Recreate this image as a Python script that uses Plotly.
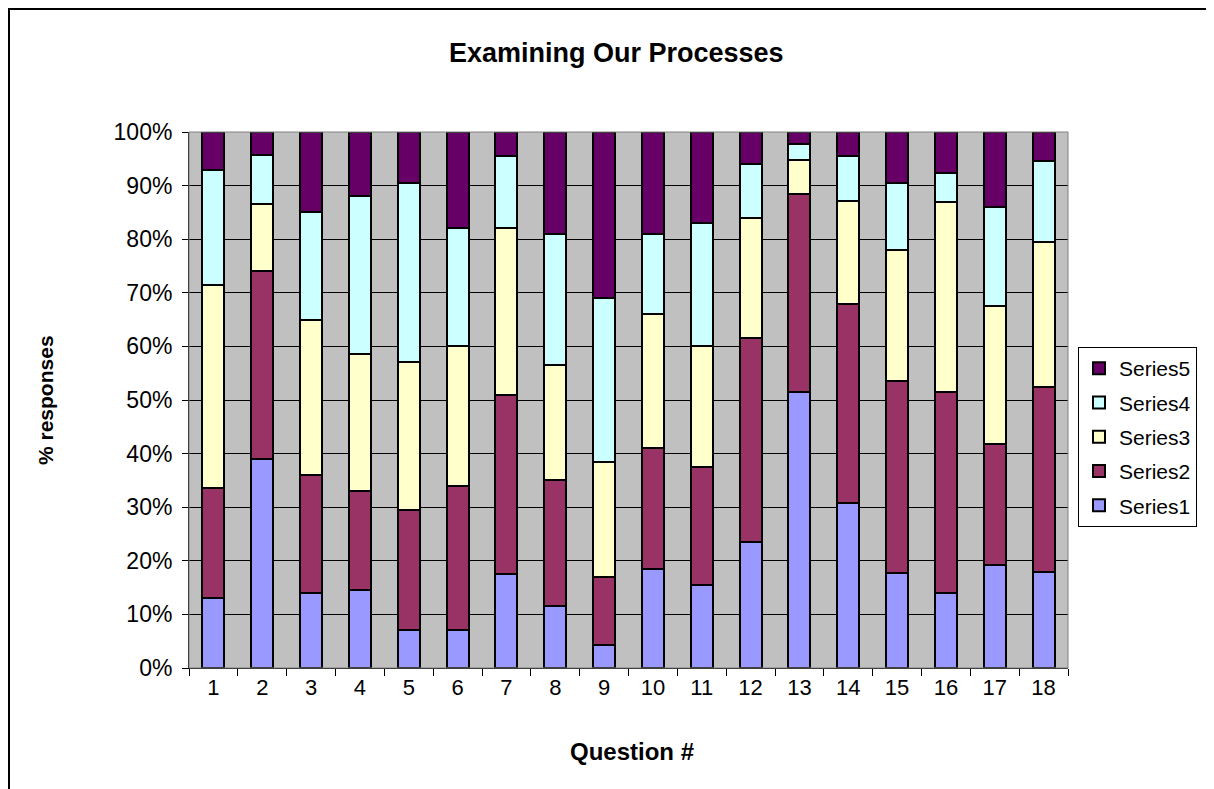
import plotly.graph_objects as go

questions = [str(i) for i in range(1, 19)]
series1 = [13, 39, 14, 14.5, 7, 7, 17.5, 11.5, 4.3, 18.5, 15.5, 23.5, 51.5, 30.8, 17.8, 14, 19.2, 18]
series2 = [20.5, 35, 22, 18.5, 22.5, 27, 33.5, 23.5, 12.7, 22.5, 22, 38, 37, 37.2, 35.7, 37.5, 22.5, 34.5]
series3 = [38, 12.5, 29, 25.5, 27.5, 26, 31, 21.5, 21.5, 25, 22.5, 22.5, 6.3, 19.2, 24.5, 35.5, 25.8, 27]
series4 = [21.5, 9.3, 20, 29.5, 33.5, 22, 13.5, 24.5, 30.5, 15, 23, 10, 3, 8.4, 12.5, 5.3, 18.5, 15]
series5 = [7, 4.2, 15, 12, 9.5, 18, 4.5, 19, 31, 19, 17, 6, 2.2, 4.4, 9.5, 7.7, 14, 5.5]

names = ["Series1", "Series2", "Series3", "Series4", "Series5"]
data = [series1, series2, series3, series4, series5]
colors = ["#9999FF", "#993366", "#FFFFCC", "#CCFFFF", "#660066"]

W, H = 1214, 789
L, R, T, B = 181, 154, 124, 129
pw, ph = W - L - R, H - T - B


def px(x):
    return (x - L) / pw


def py(y):
    return (H - B - y) / ph


fig = go.Figure()
for i, (n, d, c) in enumerate(zip(names, data, colors)):
    fig.add_trace(go.Bar(
        x=questions, y=d, name=n, legendgroup=n, legendrank=10 - i,
        marker=dict(color=c, line=dict(color="black", width=2)),
    ))

font_family = "Liberation Sans, Arial, sans-serif"
fig.update_layout(
    width=W, height=H,
    barmode="stack", bargap=0.55,
    paper_bgcolor="white", plot_bgcolor="#C0C0C0",
    margin=dict(l=L, r=R, t=T, b=B),
    font=dict(family=font_family, size=21, color="black"),
    showlegend=True,
    legend=dict(
        x=px(1070), y=py(429), xanchor="left", yanchor="middle",
        traceorder="grouped", tracegroupgap=4,
        bordercolor="black", borderwidth=1, bgcolor="white",
        font=dict(size=21), itemwidth=30,
    ),
    annotations=[
        dict(text="<b>Examining Our Processes</b>", x=px(608), y=py(45), xref="paper", yref="paper",
             showarrow=False, font=dict(size=27), xanchor="center", yanchor="middle"),
        dict(text="<b>Question #</b>", x=px(624), y=py(743), xref="paper", yref="paper",
             showarrow=False, font=dict(size=24), xanchor="center", yanchor="middle"),
        dict(text="<b>% responses</b>", x=px(37), y=py(392), xref="paper", yref="paper",
             showarrow=False, font=dict(size=21), xanchor="center", yanchor="middle", textangle=-90),
    ],
)

fig.update_xaxes(
    type="category", tickson="boundaries", ticks="outside", ticklen=7,
    tickcolor="black", showline=True, linecolor="black", linewidth=1,
    showgrid=False, mirror=False,
    tickfont=dict(size=22),
)
fig.update_yaxes(
    range=[0, 100], dtick=10, ticksuffix="%", ticks="outside", ticklen=6,
    tickcolor="black", showline=True, linecolor="black", linewidth=1,
    showgrid=True, gridcolor="black", gridwidth=1, zeroline=False,
    tickfont=dict(size=23), ticklabelstandoff=5,
)

# plot area border (gray) on top/right
fig.add_shape(type="rect", xref="paper", yref="paper", x0=0, y0=0, x1=1, y1=1,
              line=dict(color="#808080", width=1), layer="above")
# outer chart border (left and top edges visible)
fig.add_shape(type="line", xref="paper", yref="paper", x0=px(1), y0=py(0), x1=px(1), y1=py(H + 5),
              line=dict(color="black", width=2))
fig.add_shape(type="line", xref="paper", yref="paper", x0=px(0), y0=py(1), x1=px(W + 5), y1=py(1),
              line=dict(color="black", width=2))

fig.write_html("out.html")
